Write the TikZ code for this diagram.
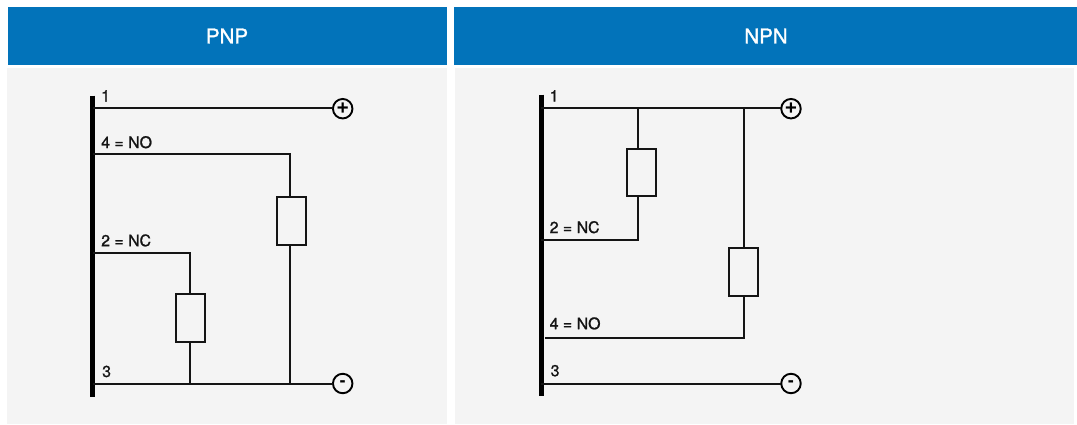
\documentclass[tikz,border=0pt]{standalone}
\usepackage{fontspec}
\setmainfont{TeX Gyre Heros}
\newfontfamily\heavyfont{TeX Gyre Heros}[FakeBold=1.2]
\newfontfamily\headfont{TeX Gyre Heros}[FakeBold=1.4]
\definecolor{headblue}{HTML}{0273BA}
\definecolor{panelgrey}{HTML}{F4F4F4}
\tikzset{
  x=1pt,y=-1pt,
  wire/.style={line width=2pt,black!92},
  busbar/.style={line width=5.2pt,black},
  load/.style={draw=black!92,line width=2pt,fill=panelgrey,minimum width=29pt,minimum height=47.5pt,inner sep=0pt,outer sep=0pt},
  term/.style={draw=black,line width=1.9pt,circle,minimum size=19.5pt,inner sep=0pt,outer sep=0pt,fill=panelgrey},
  plussign/.style={font=\fontsize{22pt}{22pt}\selectfont\bfseries,inner sep=0pt},
  minussign/.style={font=\fontsize{17pt}{17pt}\selectfont\bfseries,inner sep=0pt},
  lab/.style={font=\heavyfont\fontsize{15.9pt}{16pt}\selectfont,anchor=base west,inner sep=0pt,text=black!92},
  head/.style={text=white,font=\headfont\fontsize{20.5pt}{21pt}\selectfont,inner sep=0pt},
}
\begin{document}
\begin{tikzpicture}
\useasboundingbox (0,0) rectangle (1077,424);
\fill[white] (0,0) rectangle (1077,424);
% panels
\fill[panelgrey] (6.5,68.3) rectangle (447,424);
\fill[panelgrey] (455,68.3) rectangle (1074,424);
\fill[headblue] (8,7) rectangle (447,65);
\fill[headblue] (454,7) rectangle (1077,65);
\node[head] (hp) at (227,36) {PNP};
\node[head] (hn) at (766,36) {NPN};

% PNP
\coordinate (pt) at (92.8,95.5);
\coordinate (pb) at (92.8,397);
\draw[busbar] (pt) -- (pb);
\node[load] (pr1) at (291.7,220.8) {};
\node[load] (pr2) at (190.3,318.2) {};
\coordinate (p1) at (92.8,108);
\coordinate (p4) at (92.8,154);
\coordinate (p2) at (92.8,252.5);
\coordinate (p3) at (92.8,383.5);
\coordinate (pw1) at (290.3,154);
\coordinate (pw1t) at (290.3,196.5);
\coordinate (pw1b) at (290.3,245);
\coordinate (pw1e) at (290.3,383.5);
\node[term] (pplus) at (342.7,108.7) {};
\node[plussign] at (342.7,108.2) {+};
\node[term] (pminus) at (342.7,383.5) {};
\node[minussign] at (pminus) {-};
\draw[wire] (p1) -- (pplus.west |- p1);
\draw[wire] (p3) -- (pminus.west);
\draw[wire] (p4) -- (pw1) -- (pw1t);
\draw[wire] (pw1b) -- (pw1e);
\draw[wire] (p2) -| (pr2.north);
\draw[wire] (pr2.south) -- (pr2.south |- p3);
\node[lab] at (101,101.5) {1};
\node[lab] at (101,148) {4 = NO};
\node[lab] at (101,246.2) {2 = NC};
\node[lab] at (102,377) {3};

% NPN
\coordinate (nt) at (541.2,94.5);
\coordinate (nb) at (541.2,396);
\draw[busbar] (nt) -- (nb);
\node[load] (nr1) at (641.5,172.5) {};
\node[load] (nr2) at (743.6,272.2) {};
\coordinate (n1) at (541.2,108);
\coordinate (n2) at (541.2,239.5);
\coordinate (n4) at (545,337.8);
\coordinate (n3) at (541.2,383.5);
\coordinate (nw1t) at (638,108);
\coordinate (nw1a) at (638,148.7);
\coordinate (nw1b) at (638,196.3);
\coordinate (nw1e) at (638,239.5);
\node[term] (nplus) at (791,108.7) {};
\node[plussign] at (791,108.2) {+};
\node[term] (nminus) at (791,383.5) {};
\node[minussign] at (nminus) {-};
\draw[wire] (n1) -- (nplus.west |- n1);
\draw[wire] (n3) -- (nminus.west);
\draw[wire] (nw1t) -- (nw1a);
\draw[wire] (nw1b) -- (nw1e) -- (n2);
\draw[wire] (nr2.north |- n1) -- (nr2.north);
\draw[wire] (nr2.south) |- (n4);
\node[lab] at (549.5,101.5) {1};
\node[lab] at (549.5,233) {2 = NC};
\node[lab] at (549.5,329.2) {4 = NO};
\node[lab] at (550.5,376.2) {3};
\end{tikzpicture}
\end{document}
